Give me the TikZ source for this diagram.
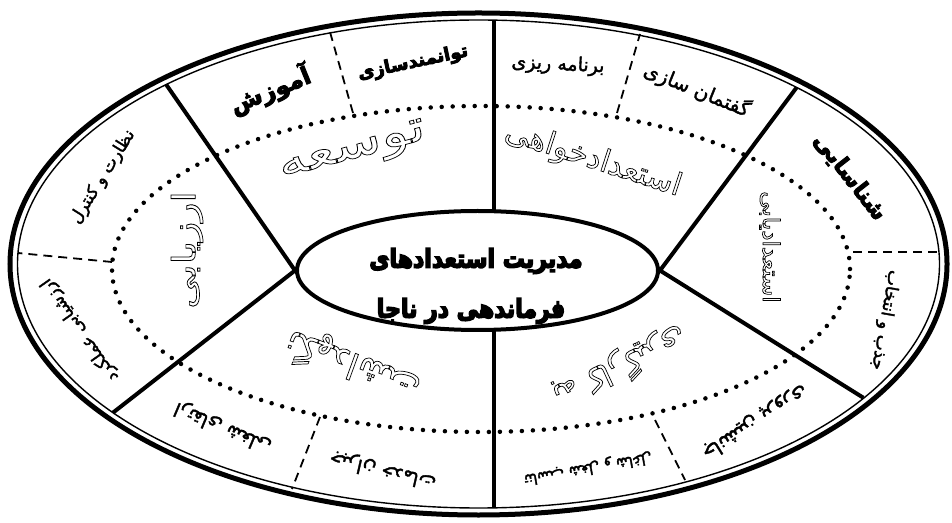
\documentclass[tikz,border=0pt]{standalone}
\usepackage{fontspec}
\usetikzlibrary{shapes.geometric}
\TeXXeTstate=1
\newfontfamily\fa[Script=Arabic]{DejaVu Sans}
\newcommand\rl[1]{\beginR #1\endR}
\newcommand\outl[1]{\special{pdf:literal direct 0.7 w 1 Tr}#1\special{pdf:literal direct 0 Tr}}
\newcommand\heavy[1]{\special{pdf:literal direct 0.9 w 2 Tr}#1\special{pdf:literal direct 0 Tr}}
\newcommand\heavier[1]{\special{pdf:literal direct 1.4 w 2 Tr}#1\special{pdf:literal direct 0 Tr}}
\newcommand\semi[1]{\special{pdf:literal direct 0.35 w 2 Tr}#1\special{pdf:literal direct 0 Tr}}
\begin{document}
\begin{tikzpicture}[x=1pt,y=1pt,
  thickl/.style={line width=4pt},
  lbl/.style={font=\fa\fontsize{17}{19}\selectfont, inner sep=0pt},
  lblb/.style={font=\fa\bfseries\fontsize{20}{22}\selectfont, inner sep=0pt},
  big/.style={font=\fa\fontsize{30}{32}\selectfont, inner sep=0pt},
  core/.style={font=\fa\bfseries\fontsize{22}{24}\selectfont, inner sep=0pt},
  dashl/.style={line width=1.8pt, dash pattern=on 9pt off 6pt},
  dotl/.style={line width=4.5pt, line cap=round, dash pattern=on 0pt off 11pt}]
\useasboundingbox (0,0) rectangle (952,522);
\fill[white] (0,0) rectangle (952,522);
% rings
\draw[line width=5pt] (478.5,258) ellipse [x radius=468.5, y radius=251];
\draw[line width=1.4pt] (478.5,258) ellipse [x radius=461, y radius=244];
\draw[dotl] (481,253) ellipse [x radius=369, y radius=163];
\node[ellipse, draw, line width=4pt, minimum width=361pt, minimum height=119pt, inner sep=0pt] (core) at (477.5,251.5) {};
% radial ends
\coordinate (cT) at (494,310.8);
\coordinate (cB) at (494,192.2);
\coordinate (oT) at (494,502);
\coordinate (oB) at (494,14);
\coordinate (oUL) at (166.1,437.6);
\coordinate (oLL) at (112.8,109.2);
\coordinate (oUR) at (796.6,434.5);
\coordinate (oLR) at (863.4,124.2);
\draw[thickl] (cT) -- (oT);
\draw[thickl] (cB) -- (oB);
\draw[thickl] (core.west) -- (oUL);
\draw[thickl] (core.west) -- (oLL);
\draw[thickl] (core.east) -- (oUR);
\draw[thickl] (core.east) -- (oLR);
% dashed dividers
\coordinate (d1a) at (353,409); \coordinate (d1b) at (330,490);
\coordinate (d2a) at (617,409); \coordinate (d2b) at (640,488);
\coordinate (d3a) at (853,270); \coordinate (d3b) at (938,270);
\coordinate (d4a) at (112,260); \coordinate (d4b) at (18,269);
\coordinate (d5a) at (320,105); \coordinate (d5b) at (292,33);
\coordinate (d6a) at (655,102); \coordinate (d6b) at (685,42);
\foreach \i in {1,...,6} \draw[dashl] (d\i a) -- (d\i b);
% centre text
\node[core, yscale=1.15] (t1) at (476,261) {\heavier{\rl{مدیریت استعدادهای}}};
\node[core, yscale=1.15] (t2) at (471,211) {\heavier{\rl{فرماندهی در ناجا}}};
% top-left sector
\node[lblb, rotate=22, font=\fa\bfseries\fontsize{24}{26}\selectfont] (amoz) at (270,432) {\heavy{\rl{آموزش}}};
\node[lblb, rotate=12, font=\fa\bfseries\fontsize{18}{20}\selectfont] (tavan) at (413,459) {\heavy{\rl{توانمندسازی}}};
\node[big, rotate=15, xscale=1.3, font=\fa\fontsize{44}{46}\selectfont] (tose) at (353,369) {\outl{\rl{توسعه}}};
% top-right sector
\node[lbl, rotate=-3, font=\fa\fontsize{19}{21}\selectfont] (barn) at (558,457) {\semi{\rl{برنامه ریزی}}};
\node[lbl, rotate=-22, font=\fa\fontsize{20}{22}\selectfont] (goft) at (697,432) {\semi{\rl{گفتمان سازی}}};
\node[big, rotate=-18, font=\fa\fontsize{31}{33}\selectfont] (estkh) at (593,362) {\outl{\rl{استعدادخواهی}}};
% right sector
\node[lblb, rotate=-52, font=\fa\bfseries\fontsize{23}{25}\selectfont] (shen) at (850,345) {\heavy{\rl{شناسایی}}};
\node[big, rotate=-90, font=\fa\fontsize{23}{25}\selectfont] (esty) at (770,275) {\outl{\rl{استعدادیابی}}};
\node[lbl, rotate=-100] (jazb) at (885,202) {\semi{\rl{جذب و انتخاب}}};
% bottom-right sector
\node[big, rotate=-155, font=\fa\fontsize{32}{34}\selectfont] (bekar) at (620,155) {\outl{\rl{به کارگیری}}};
\node[lbl, rotate=-148, font=\fa\fontsize{20}{22}\selectfont] (jan) at (755,100) {\semi{\rl{جانشین پروری}}};
\node[lbl, rotate=-170, font=\fa\fontsize{15}{17}\selectfont] (tana) at (588,54) {\semi{\rl{تناسب شغل و شاغل}}};
% bottom-left sector
\node[big, rotate=160, font=\fa\fontsize{36}{38}\selectfont] (negah) at (353,157) {\outl{\rl{نگهداشت}}};
\node[lbl, rotate=157, font=\fa\fontsize{19}{21}\selectfont] (ert) at (223,95) {\semi{\rl{ارتقای شغلی}}};
\node[lbl, rotate=167, font=\fa\fontsize{19}{21}\selectfont] (jobr) at (383,52) {\semi{\rl{جبران خدمات}}};
% left sector
\node[big, rotate=90, xscale=1.25, font=\fa\fontsize{32}{34}\selectfont] (arz) at (187,272) {\outl{\rl{ارزیابی}}};
\node[lbl, rotate=58] (nez) at (103,345) {\semi{\rl{نظارت و کنترل}}};
\node[lbl, rotate=125] (arzsh) at (80,192) {\semi{\rl{ارزشیابی عملکرد}}};
\end{tikzpicture}
\end{document}
